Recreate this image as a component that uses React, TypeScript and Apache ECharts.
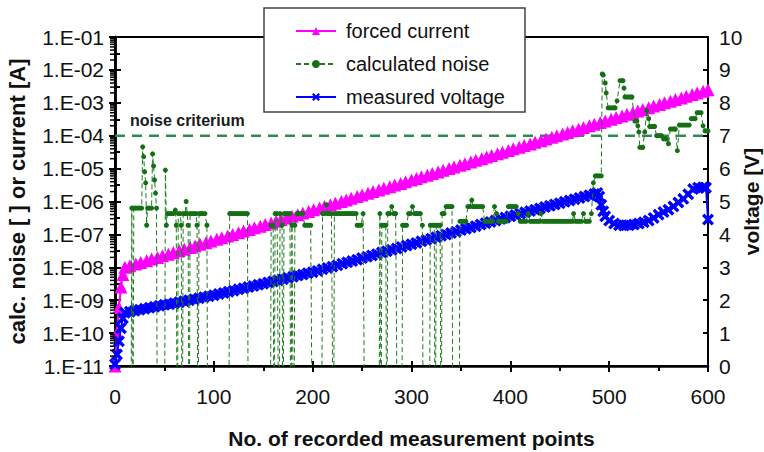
import React, { useEffect, useRef } from 'react';
import * as echarts from 'echarts';

const FONT = '"Liberation Sans", Arial, Helvetica, sans-serif';

// Forced current sweep: measurement point index and current [A]
const currentPoint = [
  0, 2, 4, 6, 8,
  10, 15, 21, 26, 32, 37, 43, 48, 54, 59, 65, 70, 76, 81, 86, 92, 97, 103, 108, 114,
  119, 125, 130, 136, 141, 147, 152, 158, 163, 168, 174, 179, 185, 190, 196, 201, 207, 212, 218, 223,
  229, 234, 239, 245, 250, 256, 261, 267, 272, 278, 283, 289, 294, 300, 305, 310, 316, 321, 327, 332,
  338, 343, 349, 354, 360, 365, 371, 376, 381, 387, 392, 398, 403, 409, 414, 420, 425, 431, 436, 442,
  447, 453, 458, 463, 469, 474, 480, 485, 491, 496, 502, 507, 513, 518, 524, 529, 534, 540, 545, 551,
  556, 562, 567, 573, 578, 584, 589, 595, 600,
];
const currentAmps = [
  1.0e-11, 1.0e-10, 6.0e-10, 2.5e-9, 6.0e-9,
  1.0e-8, 1.12e-8, 1.26e-8, 1.41e-8, 1.58e-8, 1.78e-8, 2.0e-8, 2.24e-8, 2.51e-8, 2.82e-8,
  3.16e-8, 3.55e-8, 3.98e-8, 4.47e-8, 5.01e-8, 5.62e-8, 6.31e-8, 7.08e-8, 7.94e-8, 8.91e-8,
  1.0e-7, 1.12e-7, 1.26e-7, 1.41e-7, 1.58e-7, 1.78e-7, 2.0e-7, 2.24e-7, 2.51e-7, 2.82e-7,
  3.16e-7, 3.55e-7, 3.98e-7, 4.47e-7, 5.01e-7, 5.62e-7, 6.31e-7, 7.08e-7, 7.94e-7, 8.91e-7,
  1.0e-6, 1.12e-6, 1.26e-6, 1.41e-6, 1.58e-6, 1.78e-6, 2.0e-6, 2.24e-6, 2.51e-6, 2.82e-6,
  3.16e-6, 3.55e-6, 3.98e-6, 4.47e-6, 5.01e-6, 5.62e-6, 6.31e-6, 7.08e-6, 7.94e-6, 8.91e-6,
  1.0e-5, 1.12e-5, 1.26e-5, 1.41e-5, 1.58e-5, 1.78e-5, 2.0e-5, 2.24e-5, 2.51e-5, 2.82e-5,
  3.16e-5, 3.55e-5, 3.98e-5, 4.47e-5, 5.01e-5, 5.62e-5, 6.31e-5, 7.08e-5, 7.94e-5, 8.91e-5,
  1.0e-4, 1.12e-4, 1.26e-4, 1.41e-4, 1.58e-4, 1.78e-4, 2.0e-4, 2.24e-4, 2.51e-4, 2.82e-4,
  3.16e-4, 3.55e-4, 3.98e-4, 4.47e-4, 5.01e-4, 5.62e-4, 6.31e-4, 7.08e-4, 7.94e-4, 8.91e-4,
  1.0e-3, 1.12e-3, 1.26e-3, 1.41e-3, 1.58e-3, 1.78e-3, 2.0e-3, 2.24e-3, 2.51e-3,
];

// Measured voltage [V]
const voltagePoint = [
  0, 2, 4, 6, 8,
  10, 15, 20, 25, 30, 35, 40, 45, 50, 55, 60, 65, 70, 75, 80, 85, 90, 95, 100,
  105, 110, 115, 120, 125, 130, 135, 140, 145, 150, 155, 160, 165, 170, 175, 180, 185, 190, 195, 200,
  205, 210, 215, 220, 225, 230, 235, 240, 245, 250, 255, 260, 265, 270, 275, 280, 285, 290, 295, 300,
  305, 310, 315, 320, 325, 330, 335, 340, 345, 350, 355, 360, 365, 370, 375, 380, 385, 390, 395, 400,
  405, 410, 415, 420, 425, 430, 435, 440, 445, 450, 455, 460, 465, 470, 475, 480, 485,
  488, 490, 492, 494, 496, 500, 505, 510, 515, 520, 525, 530, 535, 540, 545, 550, 555, 560, 565,
  570, 575, 580, 585, 590, 595, 598, 600,
];
const voltageVolts = [
  0.05, 0.35, 0.75, 1.15, 1.45,
  1.62, 1.65, 1.68, 1.71, 1.74, 1.77, 1.8, 1.83, 1.86, 1.88, 1.91, 1.94, 1.97, 2.0, 2.03, 2.06, 2.09, 2.12, 2.15,
  2.19, 2.22, 2.26, 2.29, 2.33, 2.36, 2.4, 2.43, 2.47, 2.5, 2.54, 2.57, 2.61, 2.64, 2.68, 2.71, 2.75, 2.78, 2.82, 2.85,
  2.89, 2.94, 2.98, 3.02, 3.06, 3.11, 3.15, 3.19, 3.23, 3.28, 3.32, 3.36, 3.4, 3.45, 3.49, 3.53, 3.57, 3.62, 3.66, 3.7,
  3.74, 3.79, 3.83, 3.87, 3.91, 3.96, 4.0, 4.04, 4.08, 4.13, 4.17, 4.21, 4.25, 4.3, 4.34, 4.38, 4.42, 4.47, 4.51, 4.55,
  4.59, 4.63, 4.67, 4.71, 4.75, 4.79, 4.83, 4.87, 4.91, 4.95, 4.99, 5.03, 5.07, 5.11, 5.15, 5.19, 5.23,
  5.26, 5.15, 4.9, 4.7, 4.55, 4.42, 4.33, 4.28, 4.27, 4.28, 4.3, 4.33, 4.37, 4.42, 4.5, 4.6, 4.68, 4.75, 4.85,
  4.97, 5.08, 5.22, 5.38, 5.42, 5.43, 5.42, 4.45,
];

// Calculated noise; readings of zero fall below the 1.E-11 floor of the log axis
const OFF = 1e-15;
const noise: [number, number][] = [
  [0, OFF], [16, OFF], [17, 6.3e-7], [18, OFF], [19, 6.3e-7], [21, 6.3e-7], [23, 6.3e-7], [25, 6.3e-7], [27, 6.3e-7],
  [28, 4.6e-5], [29, 2.3e-5], [30, 8e-6], [31, 3.7e-6], [32, 1.9e-7], [33, 6.3e-7], [35, 6.3e-7], [37, 6.3e-7],
  [38, 2.8e-5], [39, 1.2e-5], [40, 4.5e-6], [41, 1.8e-6], [42, 6.3e-7], [43, OFF], [50, OFF],
  [51, 9e-6], [52, 1.9e-7], [53, 4.3e-7], [55, 4.3e-7], [57, 4.3e-7], [59, 4.3e-7], [61, 5.5e-7], [62, 1.9e-7], [63, OFF],
  [64, 4.3e-7], [66, 4.3e-7], [67, 1.9e-7], [68, OFF], [69, 4.3e-7], [71, 4.3e-7], [72, 1e-6], [73, 4.3e-7], [74, 1.9e-7], [75, OFF],
  [76, 4.3e-7], [78, 4.3e-7], [80, 4.3e-7], [82, 4.3e-7], [83, 1.9e-7], [84, OFF], [85, 4.3e-7], [87, 4.3e-7], [89, 4.3e-7],
  [91, 4.3e-7], [93, 1.9e-7], [94, OFF],
  [115, OFF], [116, 4.3e-7], [118, 4.3e-7], [120, 4.3e-7], [122, 4.3e-7], [124, 4.3e-7], [126, 4.3e-7], [128, 4.3e-7],
  [130, 4.3e-7], [132, 4.3e-7], [134, 4.3e-7], [135, OFF],
  [157, OFF], [158, 1.9e-7], [160, 1.9e-7], [161, OFF], [162, 4.3e-7], [164, 4.3e-7], [166, OFF], [167, 4.3e-7], [169, 1.9e-7],
  [170, OFF], [171, 4.3e-7], [173, 4.3e-7], [175, 4.3e-7], [177, 4.3e-7], [178, OFF], [179, 1.9e-7], [181, OFF], [182, 1.9e-7],
  [184, 4.3e-7], [186, 4.3e-7], [188, 4.3e-7], [190, 4.3e-7], [192, 1.9e-7], [194, 1.9e-7], [196, 1.9e-7], [198, 1.9e-7], [200, OFF],
  [209, OFF], [210, 4.3e-7], [212, 4.3e-7], [214, 8e-7], [215, 4.3e-7], [217, 4.3e-7], [219, 4.3e-7], [221, OFF], [222, 4.3e-7],
  [224, 4.3e-7], [226, 4.3e-7], [228, 4.3e-7], [230, 4.3e-7], [232, 4.3e-7], [234, 4.3e-7], [236, 4.3e-7], [238, 4.3e-7],
  [240, 4.3e-7], [242, 4.3e-7], [244, 4.3e-7], [245, 1.9e-7], [247, 1.9e-7], [249, 1.9e-7], [251, 4.3e-7], [253, OFF],
  [267, OFF], [268, 4.3e-7], [269, OFF], [270, 1.9e-7], [272, 1.9e-7], [274, 1.9e-7], [275, OFF], [276, 4.3e-7], [278, 4.3e-7],
  [280, 7e-7], [282, 4.3e-7], [284, 4.3e-7], [286, OFF],
  [290, OFF], [291, 1.9e-7], [293, 1.9e-7], [295, 1.9e-7], [297, 4.3e-7], [299, 4.3e-7], [301, 7e-7], [303, 4.3e-7], [305, 4.3e-7],
  [307, 4.3e-7], [309, 4.3e-7], [311, 1.9e-7], [312, OFF],
  [318, OFF], [319, 1.9e-7], [321, 1.9e-7], [323, 1.9e-7], [324, OFF], [325, 1.9e-7], [327, 1.9e-7], [329, 1.9e-7], [330, OFF],
  [331, 4.3e-7], [333, 4.3e-7], [335, 7e-7], [337, 7e-7], [339, 7e-7], [341, 7e-7], [342, OFF],
  [348, OFF], [349, 2.5e-7], [351, 2.5e-7], [353, 2.5e-7], [355, 2.5e-7], [357, 7e-7], [359, 7e-7], [361, 1.1e-6], [362, 7e-7],
  [364, 7e-7], [366, 7e-7], [368, 7e-7], [370, 7e-7], [372, 7e-7], [374, 2.5e-7], [376, 2.5e-7], [378, 2.5e-7], [380, 2.5e-7],
  [382, 2.5e-7], [384, 7e-7], [386, 4.3e-7], [388, 2.5e-7], [390, 2.5e-7], [392, 2.5e-7], [394, 2.5e-7], [396, 2.5e-7],
  [398, 7e-7], [400, 7e-7], [402, 7e-7], [404, 7e-7], [406, 7e-7], [408, 4.3e-7], [410, 2.5e-7], [412, 2.5e-7], [414, 2.5e-7],
  [416, 2.5e-7], [418, 4.3e-7], [420, 2.5e-7], [422, 2.5e-7], [424, 2.5e-7], [426, 2.5e-7], [428, 2.5e-7], [430, 2.5e-7],
  [431, 4.3e-7], [433, 2.5e-7], [435, 2.5e-7], [437, 2.5e-7], [439, 2.5e-7], [441, 2.5e-7], [443, 2.5e-7], [445, 2.5e-7],
  [447, 2.5e-7], [449, 2.5e-7], [451, 2.5e-7], [453, 2.5e-7], [455, 2.5e-7], [457, 2.5e-7], [459, 2.5e-7], [461, 2.5e-7],
  [463, 2.5e-7], [464, 4.3e-7], [466, 2.5e-7], [468, 2.5e-7], [470, 2.5e-7], [472, 2.5e-7], [474, 4.3e-7], [476, 2.5e-7],
  [478, 2.5e-7], [480, 2.5e-7], [482, 4.3e-7],
  [484, 3.7e-6], [486, 6e-6], [488, 6e-6], [490, 6e-6], [492, 6e-6],
  [493, 7.5e-3], [494, 7e-3], [496, 4e-3], [497, 2e-3], [499, 7e-4], [501, 7e-4], [503, 7e-4], [505, 7e-4], [506, 7e-4],
  [508, 1.15e-3], [511, 4.7e-3], [513, 4.7e-3], [514, 4.7e-3], [515, 2.8e-3], [516, 1.5e-3], [518, 1.5e-3], [520, 1.5e-3],
  [522, 1.5e-3], [523, 1.5e-3], [526, 2.8e-4], [528, 2.8e-4], [529, 2e-4], [530, 1.3e-4], [531, 4.4e-5], [533, 4.4e-5],
  [534, 4.4e-5], [536, 1.3e-4], [538, 5.8e-4], [540, 3.3e-4], [541, 1.9e-4], [543, 1.9e-4], [545, 1.9e-4], [546, 1.9e-4],
  [548, 1e-4], [550, 1e-4], [552, 1e-4], [553, 1e-4], [555, 8e-5], [557, 8e-5], [558, 8e-5], [560, 5.7e-5], [562, 1.6e-4],
  [564, 1.6e-4], [566, 1.6e-4], [567, 1.6e-4], [569, 3.5e-5], [571, 2.1e-4], [573, 2.1e-4], [575, 2.1e-4], [577, 2.1e-4],
  [579, 2.1e-4], [581, 2.1e-4], [583, 3.3e-4], [585, 3.3e-4], [587, 3.3e-4], [589, 5e-4], [591, 5e-4], [593, 5e-4],
  [595, 2e-4], [597, 1.4e-4], [599, 1.4e-4], [600, 1.4e-4],
];

// Noise criterium across the whole measurement range
const criteriumPoint = [0, 600];
const criteriumValue = [1e-4, 1e-4];

const seriesNames = ['forced current', 'calculated noise', 'measured voltage'];

// 2..9 subdivisions of each decade on the left log axis
const minorLogTicks: number[] = [];
for (let e = -11; e < -1; e++) {
  for (let k = 2; k <= 9; k++) minorLogTicks.push(k * Math.pow(10, e));
}

const CROSS_SYMBOL = 'path://M0,2L2,0L5,3L8,0L10,2L7,5L10,8L8,10L5,7L2,10L0,8L3,5Z';

const sciLabel = (v: number) => {
  const e = Math.round(Math.log10(v));
  return `1.E${e < 0 ? '-' : '+'}${String(Math.abs(e)).padStart(2, '0')}`;
};

const axisText = { fontFamily: FONT, fontSize: 21, color: '#111' };
const titleText = { fontFamily: FONT, fontSize: 21, fontWeight: 'bold' as const, color: '#111' };
const black = { color: '#000' };

function buildOption(): echarts.EChartsCoreOption {
  return {
    animation: false,
    backgroundColor: '#fff',
    grid: {
      left: 115,
      right: 56,
      top: 37,
      bottom: 86,
      containLabel: false,
      outerBoundsMode: 'none',
      show: true,
      borderColor: '#000',
      borderWidth: 2,
    },
    legend: {
      data: seriesNames,
      orient: 'vertical',
      left: 264,
      top: 8,
      selectedMode: false,
      backgroundColor: '#fff',
      borderColor: '#444',
      borderWidth: 1.5,
      borderRadius: 0,
      padding: [13, 20, 5, 31],
      itemWidth: 40,
      itemHeight: 10,
      itemGap: 13,
      textStyle: { fontFamily: FONT, fontSize: 20, color: '#111', lineHeight: 20, padding: [0, 0, 0, 5] },
    },
    xAxis: [
      {
        type: 'value',
        min: 0,
        max: 600,
        interval: 100,
        position: 'bottom',
        name: 'No. of recorded measurement points',
        nameLocation: 'middle',
        nameGap: 62,
        nameMoveOverlap: false,
        nameTextStyle: titleText,
        axisLine: { lineStyle: { ...black, width: 2.5 } },
        axisTick: { length: 6, lineStyle: { ...black, width: 2 } },
        minorTick: { show: true, splitNumber: 2, length: 5, lineStyle: { ...black, width: 2 } },
        axisLabel: { ...axisText, margin: 20 },
        splitLine: { show: false },
      },
      {
        type: 'value',
        min: 0,
        max: 600,
        interval: 100,
        position: 'bottom',
        axisLine: { show: false },
        axisTick: { inside: true, length: 5, lineStyle: { ...black, width: 2 } },
        axisLabel: { show: false },
        splitLine: { show: false },
      },
    ],
    yAxis: [
      {
        type: 'log',
        logBase: 10,
        min: 1e-11,
        max: 1e-1,
        interval: 1,
        position: 'left',
        name: 'calc. noise [ ] or current [A]',
        nameLocation: 'middle',
        nameRotate: 90,
        nameGap: 87,
        nameMoveOverlap: false,
        nameTextStyle: { ...titleText, fontSize: 22 },
        axisLine: { show: true, lineStyle: { ...black, width: 2.5 } },
        axisTick: { show: true, length: 6, lineStyle: { ...black, width: 2 } },
        axisLabel: { ...axisText, margin: 11, formatter: sciLabel, showMinLabel: true, showMaxLabel: true },
        splitLine: { show: false },
      },
      {
        type: 'value',
        min: 0,
        max: 10,
        interval: 1,
        position: 'right',
        name: 'voltage [V]',
        nameLocation: 'middle',
        nameRotate: 90,
        nameGap: 33,
        nameMoveOverlap: false,
        nameTextStyle: titleText,
        axisLine: { show: true, lineStyle: { ...black, width: 2.5 } },
        axisTick: { show: true, length: 6, lineStyle: { ...black, width: 2 } },
        minorTick: { show: true, splitNumber: 2, length: 5, lineStyle: { ...black, width: 2 } },
        axisLabel: { ...axisText, margin: 11 },
        splitLine: { show: false },
      },
      {
        type: 'log',
        logBase: 10,
        min: 1e-11,
        max: 1e-1,
        interval: 1,
        position: 'left',
        axisLine: { show: false },
        axisTick: { show: true, inside: true, length: 5, lineStyle: { ...black, width: 2 } },
        axisLabel: { show: false },
        splitLine: { show: false },
      },
      {
        type: 'value',
        min: 0,
        max: 10,
        interval: 1,
        position: 'right',
        axisLine: { show: false },
        axisTick: { show: true, inside: true, length: 5, lineStyle: { ...black, width: 2 } },
        axisLabel: { show: false },
        splitLine: { show: false },
      },
    ],
    series: [
      {
        name: 'noise criterium',
        type: 'line',
        xAxisIndex: 0,
        yAxisIndex: 0,
        data: criteriumPoint.map((p, i) => [p, criteriumValue[i]]),
        symbol: 'circle',
        symbolSize: 0,
        showSymbol: true,
        showAllSymbol: true,
        label: {
          show: true,
          position: 'right',
          offset: [10, -15],
          formatter: (p: any) => (p.dataIndex === 0 ? 'noise criterium' : ''),
          fontFamily: FONT,
          fontSize: 16,
          fontWeight: 'bold',
          color: '#1a1a1a',
        },
        lineStyle: { color: '#2e8b57', width: 2.5, type: [10, 7] },
        itemStyle: { color: '#2e8b57' },
        silent: true,
        z: 1,
      },
      {
        name: 'forced current',
        type: 'line',
        xAxisIndex: 0,
        yAxisIndex: 0,
        data: currentPoint.map((p, i) => [p, currentAmps[i]]),
        symbol: 'triangle',
        symbolSize: 13,
        showAllSymbol: true,
        lineStyle: { color: '#ff00ff', width: 2 },
        itemStyle: { color: '#ff00ff' },
        emphasis: { disabled: true },
        z: 2,
      },
      {
        name: 'measured voltage',
        type: 'line',
        xAxisIndex: 0,
        yAxisIndex: 1,
        data: voltagePoint.map((p, i) => [p, voltageVolts[i]]),
        symbol: CROSS_SYMBOL,
        symbolSize: 12,
        showAllSymbol: true,
        lineStyle: { color: '#0000ff', width: 2 },
        itemStyle: { color: '#0000ff' },
        emphasis: { disabled: true },
        z: 3,
      },
      {
        name: 'calculated noise',
        type: 'line',
        xAxisIndex: 0,
        yAxisIndex: 0,
        data: noise,
        symbol: 'circle',
        symbolSize: 5,
        showAllSymbol: true,
        clip: true,
        lineStyle: { color: '#1c7c1c', width: 1, type: [5, 3] },
        itemStyle: { color: '#157015' },
        emphasis: { disabled: true },
        z: 4,
      },
      {
        name: 'minor ticks',
        type: 'custom',
        xAxisIndex: 0,
        yAxisIndex: 0,
        silent: true,
        clip: false,
        z: 5,
        data: minorLogTicks.map((v) => [0, v]),
        renderItem: (_params: any, api: any) => {
          const p = api.coord([api.value(0), api.value(1)]);
          return {
            type: 'line',
            shape: { x1: p[0] - 5, y1: p[1], x2: p[0], y2: p[1] },
            style: { stroke: '#000', lineWidth: 1.5 },
          };
        },
      },
    ],
  };
}

export default function App() {
  const ref = useRef<HTMLDivElement>(null);
  useEffect(() => {
    if (!ref.current) return;
    const chart = echarts.init(ref.current, null, { renderer: 'svg' });
    chart.setOption(buildOption());
    return () => chart.dispose();
  }, []);
  return (
    <div
      ref={ref}
      style={{ position: 'fixed', left: 0, top: 0, width: 764, height: 452, background: '#fff' }}
    />
  );
}
